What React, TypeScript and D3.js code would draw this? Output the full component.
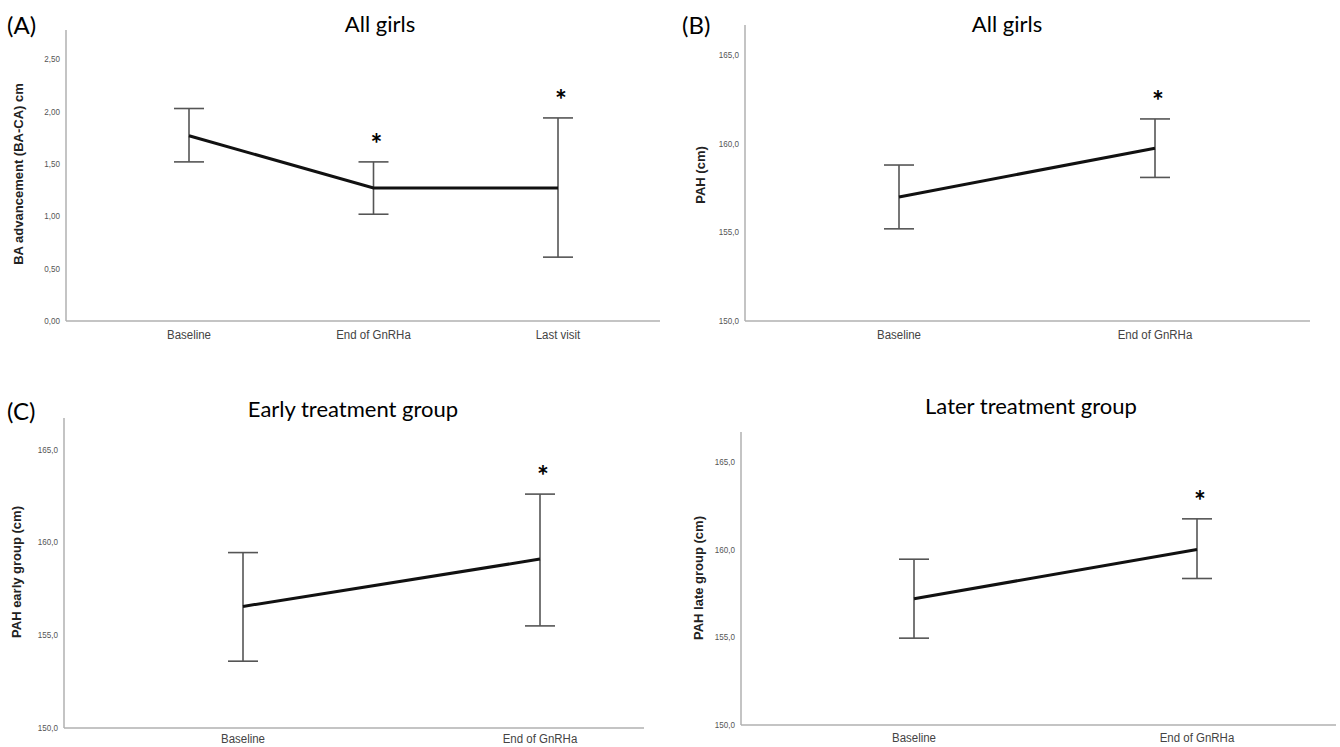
import * as d3 from "d3";

// panel A: bone age advancement
const categoriesA = ["Baseline", "End of GnRHa", "Last visit"];
const meanA = [1.77, 1.27, 1.27];
const lowerA = [1.52, 1.02, 0.61];
const upperA = [2.03, 1.52, 1.94];
const starA = [false, true, true];
const ticksA = [0, 0.5, 1, 1.5, 2, 2.5];

// panels B-D: predicted adult height
const categoriesPAH = ["Baseline", "End of GnRHa"];
const ticksPAH = [150, 155, 160, 165];
const starPAH = [false, true];

const meanB = [157.0, 159.75];
const lowerB = [155.2, 158.1];
const upperB = [158.8, 161.4];

const meanC = [156.55, 159.1];
const lowerC = [153.6, 155.5];
const upperC = [159.45, 162.6];

const meanD = [157.2, 160.0];
const lowerD = [154.95, 158.35];
const upperD = [159.45, 161.75];

const locale = d3.formatLocale({
  decimal: ",",
  thousands: ".",
  grouping: [3],
  currency: ["", ""],
});

const sans = "'Liberation Sans', Arial, sans-serif";
const calib = "Lato, 'Open Sans', sans-serif";

function Panel({ cats, mean, lower, upper, star, ticks, fmt, yMax, x0, x1, catX0, catX1, yTop, yBottom, labelGap = 18, title, titleX, titleY, tag, tagX, tagY, yLabel, yLabelX, yLabelY, }) {
  const x = d3.scalePoint().domain(cats).range([catX0, catX1]);
  const y = d3.scaleLinear().domain([ticks[0], yMax]).range([yBottom, yTop]);
  const f = locale.format(fmt);
  const line = d3
    .line<number>()
    .x((d, i) => x(cats[i]))
    .y((d) => y(d));

  return (
    <g>
      {tag && (
        <text x={tagX} y={tagY} fontFamily={calib} fontSize={24} fill="#000">
          {tag}
        </text>
      )}
      <text x={titleX} y={titleY} textAnchor="middle" fontFamily={calib} fontSize={22} fill="#000">
        {title}
      </text>
      <line x1={x0} x2={x0} y1={yTop} y2={yBottom} stroke="#b0b0b0" strokeWidth={1.5} />
      <line x1={x0} x2={x1} y1={yBottom} y2={yBottom} stroke="#b0b0b0" strokeWidth={1.5} />
      {ticks.map((t) => (
        <g key={t} transform={`translate(${x0 - 6},${y(t) + 3}) scale(0.85,1)`}>
          <text textAnchor="end" fontFamily={sans} fontSize={9.5} fill="#555">
            {f(t)}
          </text>
        </g>
      ))}
      {cats.map((c) => (
        <g key={c} transform={`translate(${x(c)},${yBottom + labelGap}) scale(0.85,1)`}>
          <text textAnchor="middle" fontFamily={sans} fontSize={13.5} fill="#444">
            {c}
          </text>
        </g>
      ))}
      <text
        transform={`translate(${yLabelX},${yLabelY}) rotate(-90)`}
        textAnchor="middle"
        fontFamily={sans}
        fontWeight="bold"
        fontSize={13}
        fill="#222"
      >
        {yLabel}
      </text>
      {cats.map((c, i) => (
        <g key={c} stroke="#555" strokeWidth={1.6}>
          <line x1={x(c)} x2={x(c)} y1={y(lower[i])} y2={y(upper[i])} />
          <line x1={x(c) - 15} x2={x(c) + 15} y1={y(lower[i])} y2={y(lower[i])} />
          <line x1={x(c) - 15} x2={x(c) + 15} y1={y(upper[i])} y2={y(upper[i])} />
        </g>
      ))}
      <path d={line(mean)} fill="none" stroke="#111" strokeWidth={3} />
      {cats.map((c, i) =>
        star[i] ? (
          <text key={c} x={x(c) + 3} y={y(upper[i]) - 8} textAnchor="middle" fontFamily={calib} fontWeight="bold" fontSize={28} fill="#000">
            *
          </text>
        ) : null
      )}
    </g>
  );
}

export default function App() {
  return (
    <svg width={1340} height={747} style={{ position: "absolute", left: 0, top: 0, background: "#fff" }}>
      <Panel cats={categoriesA} mean={meanA} lower={lowerA} upper={upperA} star={starA} ticks={ticksA} fmt=".2f" yMax={2.78}
        x0={66} x1={660} catX0={189} catX1={558} yTop={30} yBottom={321}
        title="All girls" titleX={380} titleY={32} tag="(A)" tagX={7} tagY={34}
        yLabel="BA advancement (BA-CA) cm" yLabelX={23} yLabelY={174} />
      <Panel cats={categoriesPAH} mean={meanB} lower={lowerB} upper={upperB} star={starPAH} ticks={ticksPAH} fmt=".1f" yMax={166.7}
        x0={745} x1={1310} catX0={899} catX1={1155} yTop={25} yBottom={321}
        title="All girls" titleX={1007} titleY={32} tag="(B)" tagX={682} tagY={34}
        yLabel="PAH (cm)" yLabelX={705} yLabelY={175} />
      <Panel cats={categoriesPAH} mean={meanC} lower={lowerC} upper={upperC} star={starPAH} ticks={ticksPAH} fmt=".1f" yMax={166.7}
        x0={64} x1={644} catX0={243} catX1={540} yTop={418} yBottom={728} labelGap={15}
        title="Early treatment group" titleX={353} titleY={417} tag="(C)" tagX={7} tagY={420}
        yLabel="PAH early group (cm)" yLabelX={21} yLabelY={572} />
      <Panel cats={categoriesPAH} mean={meanD} lower={lowerD} upper={upperD} star={starPAH} ticks={ticksPAH} fmt=".1f" yMax={166.7}
        x0={741} x1={1336} catX0={914} catX1={1197} yTop={432} yBottom={725} labelGap={17}
        title="Later treatment group" titleX={1031} titleY={414} tag={null} tagX={0} tagY={0}
        yLabel="PAH late group (cm)" yLabelX={703} yLabelY={578} />
    </svg>
  );
}
